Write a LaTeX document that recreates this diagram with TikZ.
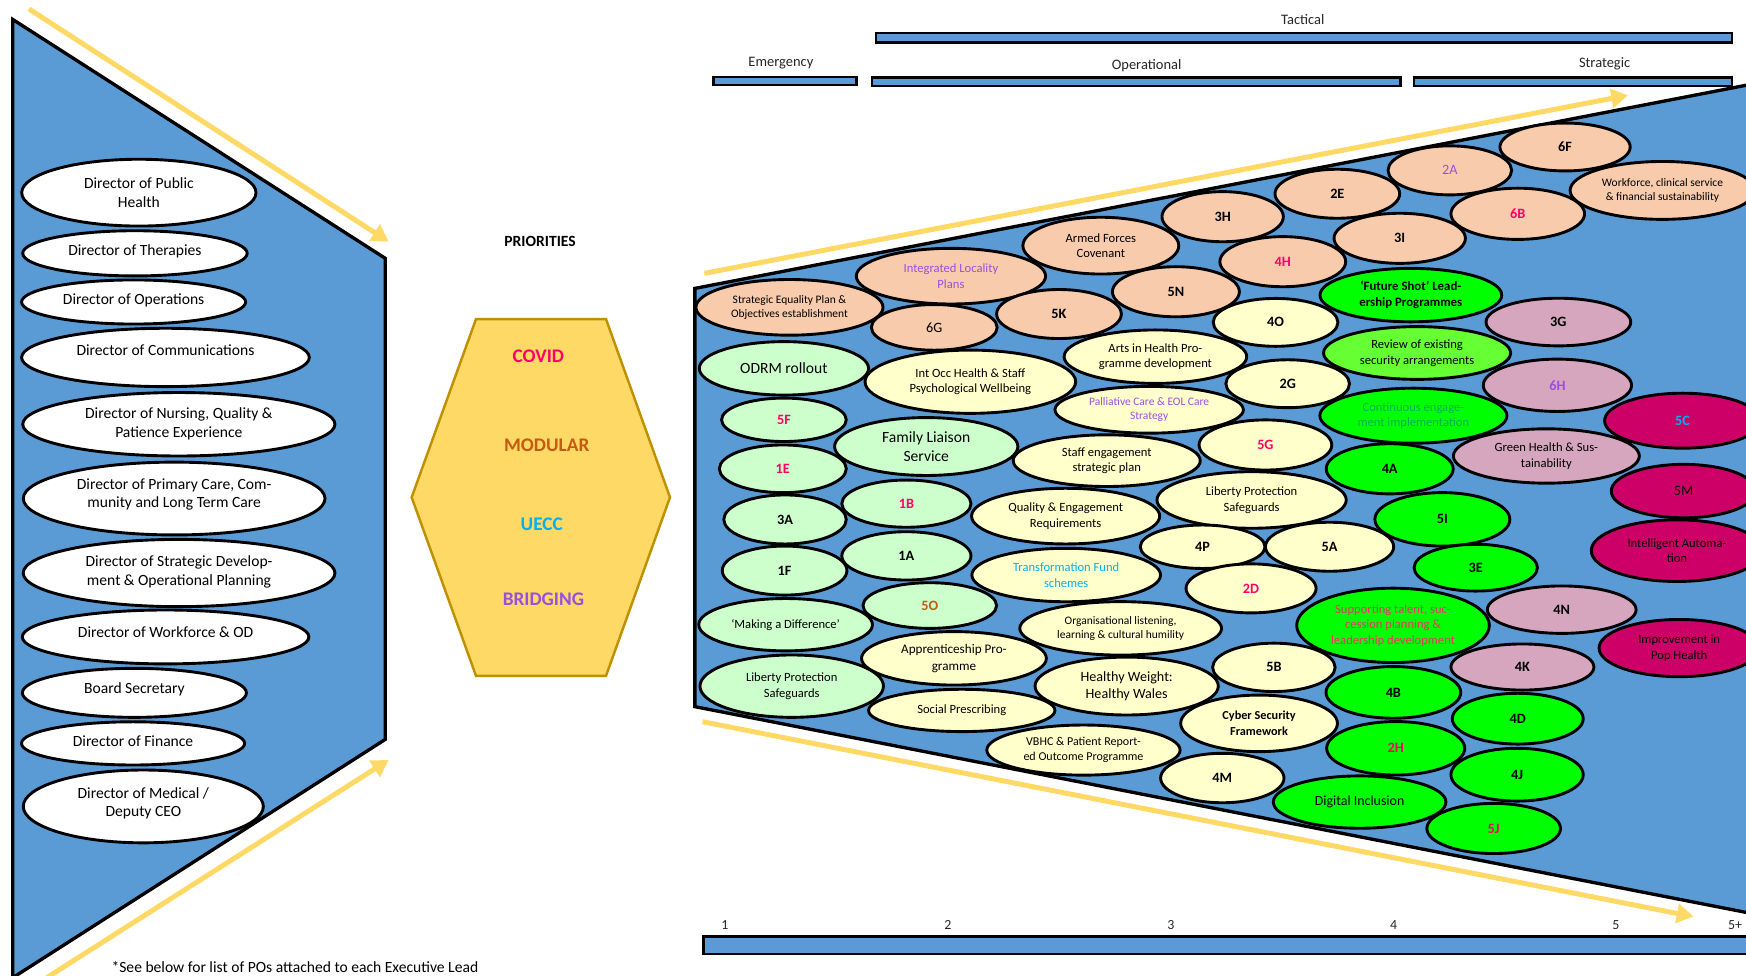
\documentclass[tikz,border=0pt]{standalone}
\usepackage{fontspec}
\usepackage{graphicx}
\setmainfont{Carlito}
\usetikzlibrary{shapes.geometric,arrows.meta}

\definecolor{blueA}{HTML}{5B9BD5}
\definecolor{goldA}{HTML}{FFD966}
\definecolor{goldB}{HTML}{BF9000}
\definecolor{peach}{HTML}{F8CBAD}
\definecolor{cream}{HTML}{FFFFCC}
\definecolor{mint}{HTML}{CCFFCC}
\definecolor{lime}{HTML}{00FF00}
\definecolor{limeB}{HTML}{66FF33}
\definecolor{mauve}{HTML}{D5A6BD}
\definecolor{berry}{HTML}{CC0066}
\definecolor{pinkred}{HTML}{FF0066}
\definecolor{rust}{HTML}{C55A11}
\definecolor{sky}{HTML}{00B0F0}
\definecolor{violet}{HTML}{9B50DC}
\definecolor{leaf}{HTML}{00B050}
\definecolor{softred}{HTML}{E8365F}

\tikzset{
  pobox/.style={ellipse, draw=black, line width=2.6pt, inner sep=0pt},
  potext/.style={align=center, inner sep=0pt, text=black, font=\fontsize{11.3}{14}\selectfont},
  code/.style={font=\bfseries\fontsize{12.8}{14}\selectfont},
  plain/.style={font=\fontsize{12.8}{14}\selectfont},
  small/.style={font=\fontsize{10.3}{12.5}\selectfont},
  big/.style={font=\fontsize{14}{17}\selectfont},
  dirbox/.style={ellipse, draw=black, fill=white, line width=2.6pt, inner sep=0pt},
  dirtext/.style={align=center, inner sep=0pt, font=\fontsize{14}{16.5}\selectfont},
  bar/.style={draw=black, fill=blueA, line width=2.2pt},
  flow/.style={draw=goldA, line width=4.5pt, -{Triangle[length=15pt,width=17pt]}},
  scalelabel/.style={inner sep=0pt, text=black!85, font=\fontsize{13}{15}\selectfont},
  prio/.style={inner sep=0pt, font=\bfseries\fontsize{17.3}{19}\selectfont},
}

% priority objective: name, x, y, x radius, y radius, fill, text style, text
\newcommand\po[8]{%
  \node[pobox, fill=#6, minimum width=2*#4, minimum height=2*#5] (#1) at (#2,#3) {};
  \node[potext, #7] (#1-t) at (#1.center) {#8};}

% executive lead: name, x, y, x radius, y radius, text lift, text
\newcommand\lead[7]{%
  \node[dirbox, minimum width=2*#4, minimum height=2*#5] (#1) at (#2,#3) {};
  \node[dirtext, yshift=#6] (#1-t) at (#1.center) {#7};}

\begin{document}
\begin{tikzpicture}[x=1pt, y=-1pt]
\useasboundingbox (0,0) rectangle (1568,876);
\clip (0,0) rectangle (1568,876);

% ---------- executive leads panel ----------
\draw[line width=3pt, fill=blueA] (11.5,17.5) -- (346,232) -- (346,664) -- (11.5,878) -- cycle;

\lead{dph}{124.7}{173}{105.2}{30}{0}{Director of Public\\Health}
\lead{dth}{121.2}{227.5}{100.8}{20.3}{2}{Director of Therapies}
\lead{dop}{120}{271.2}{100.6}{19.8}{1.5}{Director of Operations}
\lead{dco}{148.6}{321}{129.2}{26.2}{6.5}{Director of Communications}
\lead{dnq}{160.6}{381}{140.2}{28.5}{0.5}{Director of Nursing, Quality \&\\Patience Experience}
\lead{dpc}{156.4}{447.7}{135.5}{32.7}{3.5}{Director of Primary Care, Com-\\munity and Long Term Care}
\lead{dsd}{160.8}{514.6}{140}{30.2}{1}{Director of Strategic Develop-\\ment \& Operational Planning}
\lead{dwf}{148.7}{572}{128.7}{24.2}{4.7}{Director of Workforce \& OD}
\lead{dbs}{120.7}{622.2}{100.6}{22}{3.4}{Board Secretary}
\lead{dfi}{119.5}{667.6}{100.2}{19.4}{2}{Director of Finance}
\lead{dme}{128.7}{724.2}{107.8}{32.7}{3}{Director of Medical /\\Deputy CEO}

\node[anchor=west, inner sep=0pt, font=\fontsize{14}{16}\selectfont] (note) at (100,868.5)
  {*See below for list of POs attached to each Executive Lead};

% ---------- priorities ----------
\node[inner sep=0pt, font=\bfseries\fontsize{14}{16}\selectfont] (prhead) at (485,217) {PRIORITIES};
\draw[fill=goldA, draw=goldB, line width=2.2pt]
  (427.5,286.5) -- (544.2,286.5) -- (601.7,446.6) -- (544.2,607) -- (427.5,607) -- (369.7,446.6) -- cycle;
\node[prio, text=pinkred] (covid) at (483.5,320.3) {COVID};
\node[prio, text=rust] (modular) at (491,400) {MODULAR};
\node[prio, text=sky] (uecc) at (486.5,470.6) {UECC};
\node[prio, text=violet] (bridging) at (488,538.2) {BRIDGING};

% ---------- time scale ----------
\path[bar] (786.6,29.5) rectangle (1555.3,38.3);
\path[bar] (640.9,69) rectangle (769,76.3);
\path[bar] (782.9,69.4) rectangle (1257.7,77);
\path[bar] (1269.8,69.4) rectangle (1555.3,77);
\node[scalelabel] (tactical) at (1170,17.5) {Tactical};
\node[scalelabel] (emergency) at (701.3,56.5) {Emergency};
\node[scalelabel] (operational) at (1029.7,58.5) {Operational};
\node[scalelabel] (strategic) at (1441,57.5) {Strategic};

\path[bar] (631.8,841.2) rectangle (1575,856.8);
\foreach \n/\x in {1/651.1, 2/851.3, 3/1051.5, 4/1251.6, 5/1451.2, 5+/1558.2}
  \node[scalelabel, font=\fontsize{12.5}{14}\selectfont] (yr\n) at (\x,830.5) {\n};

% ---------- portfolio funnel ----------
\draw[line width=3pt, fill=blueA] (1600,70.4) -- (624,259) -- (624,634.6) -- (1600,825.6);

% peach
\po{seq}{709}{276}{84}{25}{peach}{small}{Strategic Equality Plan \&\\Objectives establishment}
\po{ilp}{854}{248}{85}{25}{peach}{text=violet}{Integrated Locality\\Plans}
\po{p6G}{839}{294}{56.5}{20.5}{peach}{plain}{6G}
\po{afc}{988.6}{220.6}{70}{25.5}{peach}{}{Armed Forces\\Covenant}
\po{p5K}{951}{282}{56}{22}{peach}{code}{5K}
\po{p3H}{1098}{194.6}{54.5}{22.5}{peach}{code}{3H}
\po{p5N}{1056}{262}{57}{22.5}{peach}{code}{5N}
\po{p2E}{1201}{174}{56}{22}{peach}{code}{2E}
\po{p4H}{1152}{235}{56.5}{22.5}{peach}{code, text=pinkred}{4H}
\po{p3I}{1257}{214}{59}{22.5}{peach}{code}{3I}
\po{p2A}{1302}{153}{55.5}{22}{peach}{plain, text=violet}{2A}
\po{p6B}{1363}{192}{60}{23}{peach}{code, text=pinkred}{6B}
\po{p6F}{1405.5}{132}{58.5}{21.5}{peach}{code}{6F}
\po{wcs}{1493}{171}{83}{26}{peach}{small}{Workforce, clinical service\\\& financial sustainability}

% cream
\po{arts}{1037.6}{320.3}{82}{24}{cream}{}{Arts in Health Pro-\\gramme development}
\po{p4O}{1145.5}{289.5}{56}{21.5}{cream}{code}{4O}
\po{p2G}{1156.4}{344.6}{55.5}{21.5}{cream}{code}{2G}
\po{ioh}{871.4}{342.8}{94.6}{28.4}{cream}{}{Int Occ Health \& Staff\\Psychological Wellbeing}
\po{pal}{1032}{368}{84.6}{21}{cream}{small, text=violet}{Palliative Care \& EOL Care\\Strategy}
\po{p5G}{1136.4}{399.6}{59.6}{22.5}{cream}{code, text=pinkred}{5G}
\po{sea}{993.9}{413.7}{84}{23.2}{cream}{}{Staff engagement\\strategic plan}
\po{lpc}{1124}{449}{85}{25.4}{cream}{}{Liberty Protection\\Safeguards}
\po{qer}{957}{463.5}{84.5}{25}{cream}{}{Quality \& Engagement\\Requirements}
\po{p4P}{1080}{491}{56}{19.5}{cream}{code}{4P}
\po{p5A}{1194}{491}{57.6}{22}{cream}{code}{5A}
\po{tfs}{957.5}{516.4}{84.7}{24}{cream}{text=sky}{Transformation Fund\\schemes}
\po{p2D}{1123.5}{528.4}{58.4}{22}{cream}{code, text=pinkred}{2D}
\po{oll}{1006.4}{564.3}{90.6}{24}{cream}{small}{Organisational listening,\\learning \& cultural humility}
\po{app}{856.7}{591.2}{83}{24}{cream}{font=\fontsize{11.8}{15}\selectfont}{Apprenticeship Pro-\\gramme}
\po{p5B}{1144}{599.3}{55}{21.7}{cream}{code}{5B}
\po{hwh}{1011.8}{616.1}{82.3}{26}{cream}{font=\fontsize{12.7}{15.5}\selectfont}{Healthy Weight:\\Healthy Wales}
\po{spr}{863.7}{638}{83.7}{19}{cream}{}{Social Prescribing}
\po{csf}{1130.7}{649.6}{70.4}{25.4}{cream}{font=\bfseries\fontsize{11}{14}\selectfont}{Cyber Security\\Framework}
\po{vbhc}{973}{673.6}{86.8}{22.5}{cream}{font=\fontsize{10.8}{13.5}\selectfont}{VBHC \& Patient Report-\\ed Outcome Programme}
\po{p4M}{1097.7}{698.7}{55.4}{22.2}{cream}{code}{4M}

% mint
\po{odrm}{704}{330.8}{76}{24}{mint}{big}{ODRM rollout}
\po{p5F}{704}{377}{56}{19.5}{mint}{code, text=pinkred}{5F}
\po{fls}{831.8}{401}{82.3}{26}{mint}{big}{Family Liaison\\Service}
\po{p1E}{703}{421}{57}{21.4}{mint}{code, text=pinkred}{1E}
\po{p1B}{814}{452.3}{58}{21.2}{mint}{code, text=pinkred}{1B}
\po{p3A}{705}{466.5}{55}{22}{mint}{code}{3A}
\po{p1A}{814}{499.2}{58}{21.7}{mint}{code}{1A}
\po{p1F}{704.6}{512.4}{56}{22}{mint}{code}{1F}
\po{p5O}{835}{543.8}{60}{20.5}{mint}{code, text=rust}{5O}
\po{mad}{705.5}{561}{78}{23.5}{mint}{}{‘Making a Difference’}
\po{lpg}{711}{616.2}{82.4}{28}{mint}{}{Liberty Protection\\Safeguards}

% bright green
\po{fsl}{1267}{265}{81.6}{24}{lime}{font=\bfseries\fontsize{11.5}{14.5}\selectfont}{‘Future Shot’ Lead-\\ership Programmes}
\po{rse}{1272.6}{317}{84}{23.7}{limeB}{}{Review of existing\\security arrangements}
\po{cei}{1269.3}{373.3}{84}{24.7}{lime}{text=leaf}{Continuous engage-\\ment implementation}
\po{p4A}{1248}{421}{57}{22.5}{lime}{code}{4A}
\po{p5I}{1295.3}{466.4}{60.6}{24}{lime}{code}{5I}
\po{p3E}{1325.3}{509.8}{55.4}{21}{lime}{code}{3E}
\po{stp}{1251}{561.6}{86.5}{33.4}{lime}{text=softred}{Supporting talent, suc-\\cession planning \&\\leadership development}
\po{p4B}{1251.3}{621.8}{60.5}{23.2}{lime}{code}{4B}
\po{p2H}{1253.4}{672}{62}{24}{lime}{code, text=pinkred}{2H}
\po{dig}{1221}{720.3}{77.5}{23.5}{lime}{font=\fontsize{12.5}{15}\selectfont}{Digital Inclusion}
\po{p4D}{1363}{645.4}{58.8}{22.8}{lime}{code}{4D}
\po{p4J}{1362.4}{695.7}{59.4}{23.7}{lime}{code}{4J}
\po{p5J}{1341.4}{744}{60}{22.5}{lime}{code, text=pinkred}{5J}

% mauve
\po{p3G}{1399.5}{289.2}{65}{21.4}{mauve}{code}{3G}
\po{p6H}{1398.6}{346}{66.6}{23.5}{mauve}{code, text=violet}{6H}
\po{ghs}{1388.7}{409.5}{83.5}{24.4}{mauve}{}{Green Health \& Sus-\\tainability}
\po{p4N}{1402.5}{547.5}{66.8}{21.3}{mauve}{code}{4N}
\po{p4K}{1367.2}{599}{64.2}{20.7}{mauve}{code}{4K}

% berry
\po{p5C}{1511}{377.8}{70}{24.7}{berry}{code, text=sky}{5C}
\po{p5M}{1512}{441}{65}{24}{berry}{plain}{5M}
\po{iau}{1506}{494.5}{77}{27.7}{berry}{}{Intelligent Automa-\\tion}
\po{iph}{1508}{582}{72}{25.7}{berry}{}{Improvement in\\Pop Health}

% ---------- flow arrows ----------
\coordinate (f1s) at (26,8);      \coordinate (f1e) at (349,217);
\coordinate (f2s) at (42,878);    \coordinate (f2e) at (349,682.5);
\coordinate (f3s) at (632.5,245.5); \coordinate (f3e) at (1462,85.5);
\coordinate (f4s) at (630.9,648.1); \coordinate (f4e) at (1520.8,823.2);
\draw[flow] (f1s) -- (f1e);
\draw[flow] (f2s) -- (f2e);
\draw[flow] (f3s) -- (f3e);
\draw[flow] (f4s) -- (f4e);
\end{tikzpicture}
\end{document}
